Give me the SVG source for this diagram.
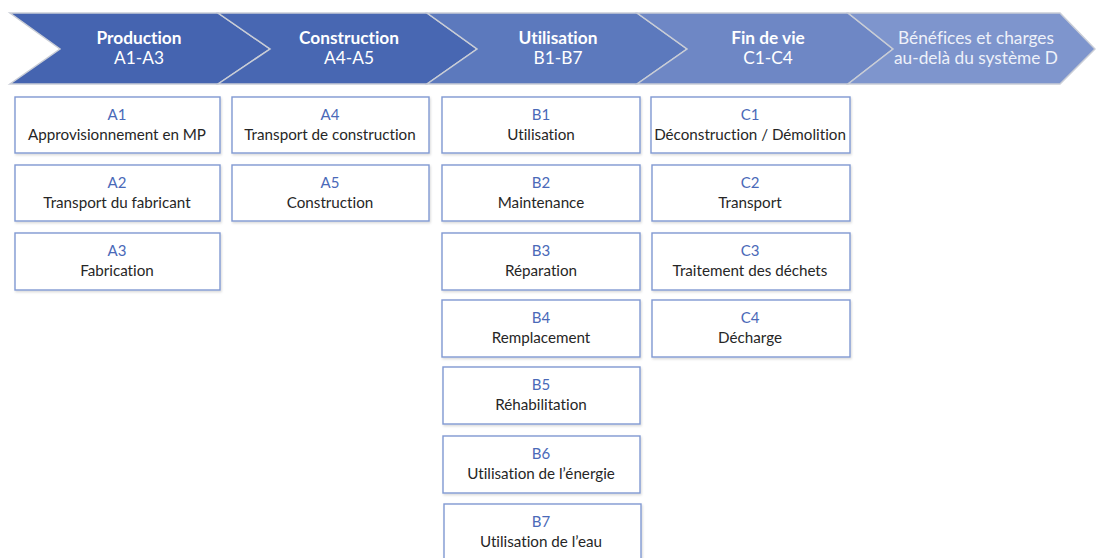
<svg xmlns="http://www.w3.org/2000/svg" width="1096" height="558" viewBox="0 0 1096 558">
<style>
text{font-variant-ligatures:none;font-feature-settings:"liga" 0,"dlig" 0}
.chev{stroke:#c9cdd6;stroke-width:1.5;stroke-linejoin:miter}
.ht{font-family:Lato,"Open Sans",sans-serif;font-size:17.3px;fill:#ffffff;text-anchor:middle}
.hb{font-weight:bold}
.hl{fill:#eef1f9}
.box{fill:#ffffff;stroke:#8099d2;stroke-width:1.4;filter:url(#sh)}
.code{font-family:Lato,"Open Sans",sans-serif;font-size:15px;fill:#4a69b8;text-anchor:middle}
.lab{font-family:Lato,"Open Sans",sans-serif;font-size:15.2px;fill:#262626;text-anchor:middle}
</style>
<defs>
<filter id="sh" x="-5%" y="-10%" width="110%" height="125%">
<feDropShadow dx="1" dy="1.5" stdDeviation="1.2" flood-color="#000" flood-opacity="0.15"/>
</filter>
</defs>
<rect width="1096" height="558" fill="#ffffff"/>
<g id="header">
<g id="h1"><polygon class="chev" fill="#4564b0" points="10,13 218,13 270,49 218,84 10,84 60,49"/>
<text class="ht hb" x="139" y="44">Production</text><text class="ht" x="139" y="64">A1-A3</text></g>
<g id="h2"><polygon class="chev" fill="#4867b2" points="218,13 427,13 477,49 427,84 218,84 270,49"/>
<text class="ht hb" x="349" y="44">Construction</text><text class="ht" x="349" y="64">A4-A5</text></g>
<g id="h3"><polygon class="chev" fill="#5c79bd" points="427,13 637,13 687,49 637,84 427,84 477,49"/>
<text class="ht hb" x="558" y="44">Utilisation</text><text class="ht" x="558" y="64">B1-B7</text></g>
<g id="h4"><polygon class="chev" fill="#6e87c5" points="637,13 848,13 893,49 848,84 637,84 687,49"/>
<text class="ht hb" x="768" y="44">Fin de vie</text><text class="ht" x="768" y="64">C1-C4</text></g>
<g id="h5"><polygon class="chev" fill="#7e95cd" points="848,13 1060,13 1095,49 1060,84 848,84 893,49"/>
<text class="ht hl" x="976" y="44">Bénéfices et charges</text><text class="ht hl" x="976" y="64">au-delà du système D</text></g>
</g>
<g id="connectors"/>
<g id="A1"><rect class="box" x="15" y="97" width="205" height="56"/><text class="code" x="117" y="120">A1</text><text class="lab" x="117" y="140">Approvisionnement en MP</text></g>
<g id="A2"><rect class="box" x="15" y="165" width="205" height="56"/><text class="code" x="117" y="188">A2</text><text class="lab" x="117" y="208">Transport du fabricant</text></g>
<g id="A3"><rect class="box" x="15" y="233" width="205" height="57"/><text class="code" x="117" y="256">A3</text><text class="lab" x="117" y="276">Fabrication</text></g>
<g id="A4"><rect class="box" x="232" y="97" width="197" height="56"/><text class="code" x="330" y="120">A4</text><text class="lab" x="330" y="140">Transport de construction</text></g>
<g id="A5"><rect class="box" x="232" y="165" width="197" height="56"/><text class="code" x="330" y="188">A5</text><text class="lab" x="330" y="208">Construction</text></g>
<g id="B1"><rect class="box" x="442" y="97" width="198" height="56"/><text class="code" x="541" y="120">B1</text><text class="lab" x="541" y="140">Utilisation</text></g>
<g id="B2"><rect class="box" x="442" y="165" width="198" height="56"/><text class="code" x="541" y="188">B2</text><text class="lab" x="541" y="208">Maintenance</text></g>
<g id="B3"><rect class="box" x="442" y="233" width="198" height="57"/><text class="code" x="541" y="256">B3</text><text class="lab" x="541" y="276">Réparation</text></g>
<g id="B4"><rect class="box" x="442" y="300" width="198" height="57"/><text class="code" x="541" y="323">B4</text><text class="lab" x="541" y="343">Remplacement</text></g>
<g id="B5"><rect class="box" x="443" y="367" width="197" height="57"/><text class="code" x="541" y="390">B5</text><text class="lab" x="541" y="410">Réhabilitation</text></g>
<g id="B6"><rect class="box" x="443" y="436" width="197" height="57"/><text class="code" x="541" y="459">B6</text><text class="lab" x="541" y="479">Utilisation de l’énergie</text></g>
<g id="B7"><rect class="box" x="444" y="504" width="197" height="60"/><text class="code" x="541" y="527">B7</text><text class="lab" x="541" y="547">Utilisation de l’eau</text></g>
<g id="C1"><rect class="box" x="651" y="97" width="199" height="56"/><text class="code" x="750" y="120">C1</text><text class="lab" x="750" y="140">Déconstruction / Démolition</text></g>
<g id="C2"><rect class="box" x="652" y="165" width="198" height="56"/><text class="code" x="750" y="188">C2</text><text class="lab" x="750" y="208">Transport</text></g>
<g id="C3"><rect class="box" x="652" y="233" width="198" height="57"/><text class="code" x="750" y="256">C3</text><text class="lab" x="750" y="276">Traitement des déchets</text></g>
<g id="C4"><rect class="box" x="652" y="300" width="198" height="57"/><text class="code" x="750" y="323">C4</text><text class="lab" x="750" y="343">Décharge</text></g>
</svg>
